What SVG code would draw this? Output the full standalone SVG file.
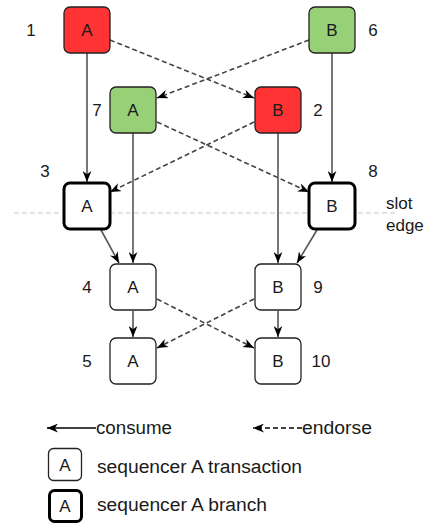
<svg xmlns="http://www.w3.org/2000/svg" width="428" height="524" viewBox="0 0 428 524">
<style>
text{font-family:"Liberation Sans",Arial,sans-serif;fill:#1a1a1a}
.lbl{font-size:17px;text-anchor:middle}
.num{font-size:17px;text-anchor:middle}
.leg{font-size:18px}
.n{stroke:#222;stroke-width:1.3}
.thick{stroke:#000;stroke-width:3;fill:#fff}
.red{fill:#ff3333}
.green{fill:#97d077}
.white{fill:#fff}
.solid{stroke:#555;stroke-width:1.6;fill:none}
.dash{stroke:#444;stroke-width:1.6;fill:none;stroke-dasharray:5 3}
</style>
<defs>
<marker id="arr" viewBox="0 0 10 8" refX="10" refY="4" markerWidth="11" markerHeight="9" markerUnits="userSpaceOnUse" orient="auto">
<path d="M0,0 L10,4 L0,8 L3,4 Z" fill="#000"/>
</marker>
</defs>
<line x1="14" y1="213" x2="395" y2="213" stroke="#c8c8c8" stroke-width="1.2" stroke-dasharray="5 3"/>
<text x="386" y="209" style="font-size:17px">slot</text>
<text x="386" y="231" style="font-size:17px">edge</text>
<g id="connectors">
<line class="solid" x1="87" y1="53" x2="87" y2="182" marker-end="url(#arr)"/>
<line class="solid" x1="332" y1="53" x2="332" y2="182" marker-end="url(#arr)"/>
<line class="solid" x1="133" y1="133" x2="133" y2="263" marker-end="url(#arr)"/>
<line class="solid" x1="278" y1="133" x2="278" y2="263" marker-end="url(#arr)"/>
<line class="solid" x1="101" y1="230" x2="119" y2="263" marker-end="url(#arr)"/>
<line class="solid" x1="317" y1="230" x2="297" y2="263" marker-end="url(#arr)"/>
<line class="solid" x1="133" y1="311" x2="133" y2="337" marker-end="url(#arr)"/>
<line class="solid" x1="278" y1="311" x2="278" y2="337" marker-end="url(#arr)"/>
<line class="dash" x1="110" y1="40" x2="254" y2="98" marker-end="url(#arr)"/>
<line class="dash" x1="309" y1="40" x2="157" y2="98" marker-end="url(#arr)"/>
<line class="dash" x1="157" y1="122" x2="309" y2="192" marker-end="url(#arr)"/>
<line class="dash" x1="254" y1="122" x2="110" y2="192" marker-end="url(#arr)"/>
<line class="dash" x1="157" y1="299" x2="254" y2="348" marker-end="url(#arr)"/>
<line class="dash" x1="254" y1="299" x2="157" y2="348" marker-end="url(#arr)"/>
</g>
<g id="node1"><rect class="n red" x="64" y="7" width="46" height="46" rx="6"/><text class="lbl" x="87" y="36">A</text><text class="num" x="31" y="36">1</text></g>
<g id="node6"><rect class="n green" x="309" y="7" width="46" height="46" rx="6"/><text class="lbl" x="332" y="36">B</text><text class="num" x="373" y="36">6</text></g>
<g id="node7"><rect class="n green" x="110" y="87" width="46" height="46" rx="6"/><text class="lbl" x="133" y="116">A</text><text class="num" x="97" y="116">7</text></g>
<g id="node2"><rect class="n red" x="255" y="87" width="46" height="46" rx="6"/><text class="lbl" x="278" y="116">B</text><text class="num" x="318" y="116">2</text></g>
<g id="node3"><rect class="thick" x="64" y="183" width="46" height="46" rx="6"/><text class="lbl" x="87" y="212">A</text><text class="num" x="45" y="177">3</text></g>
<g id="node8"><rect class="thick" x="309" y="183" width="46" height="46" rx="6"/><text class="lbl" x="332" y="212">B</text><text class="num" x="373" y="177">8</text></g>
<g id="node4"><rect class="n white" x="110" y="264" width="46" height="46" rx="6"/><text class="lbl" x="133" y="293">A</text><text class="num" x="87" y="293">4</text></g>
<g id="node9"><rect class="n white" x="255" y="264" width="46" height="46" rx="6"/><text class="lbl" x="278" y="293">B</text><text class="num" x="318" y="293">9</text></g>
<g id="node5"><rect class="n white" x="110" y="338" width="46" height="46" rx="6"/><text class="lbl" x="133" y="367">A</text><text class="num" x="87" y="367">5</text></g>
<g id="node10"><rect class="n white" x="255" y="338" width="46" height="46" rx="6"/><text class="lbl" x="278" y="367">B</text><text class="num" x="321" y="367">10</text></g>
<g id="legend">
<line x1="96" y1="428" x2="47" y2="428" stroke="#000" stroke-width="1.5" marker-end="url(#arr)"/>
<text class="leg" x="96" y="434" textLength="76" lengthAdjust="spacingAndGlyphs">consume</text>
<line x1="302" y1="428" x2="253" y2="428" stroke="#000" stroke-width="1.5" stroke-dasharray="5 3" marker-end="url(#arr)"/>
<text class="leg" x="302" y="434" textLength="70" lengthAdjust="spacingAndGlyphs">endorse</text>
<rect class="n white" x="48.5" y="448.5" width="33" height="32" rx="5"/>
<text class="lbl" x="65" y="471">A</text>
<text class="leg" x="97" y="473" textLength="205" lengthAdjust="spacingAndGlyphs">sequencer A transaction</text>
<rect class="thick" x="49.5" y="490.5" width="32" height="31" rx="5"/>
<text class="lbl" x="65" y="512">A</text>
<text class="leg" x="97" y="511" textLength="170" lengthAdjust="spacingAndGlyphs">sequencer A branch</text>
</g>
</svg>
